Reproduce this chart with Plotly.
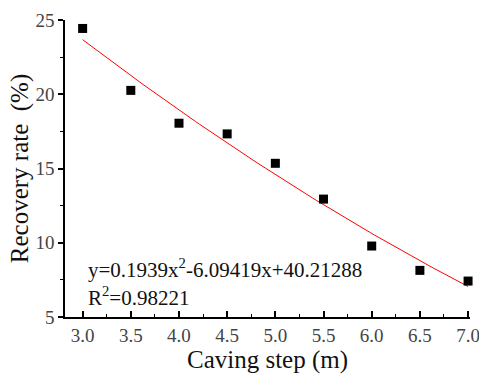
import numpy as np
import plotly.graph_objects as go

caving_step = [3.0, 3.5, 4.0, 4.5, 5.0, 5.5, 6.0, 6.5, 7.0]
recovery_rate = [24.43, 20.26, 18.05, 17.33, 15.35, 12.94, 9.78, 8.14, 7.42]

fit_a, fit_b, fit_c = 0.1939, -6.09419, 40.21288
equation_text = "y=0.1939x<sup>2</sup>-6.09419x+40.21288"
r2_text = "R<sup>2</sup>=0.98221"

x_tick_vals = [3.0, 3.5, 4.0, 4.5, 5.0, 5.5, 6.0, 6.5, 7.0]
x_tick_text = ["3.0", "3.5", "4.0", "4.5", "5.0", "5.5", "6.0", "6.5", "7.0"]
y_tick_vals = [5, 10, 15, 20, 25]

fit_x = np.linspace(min(caving_step), max(caving_step), 100)
fit_y = fit_a * fit_x ** 2 + fit_b * fit_x + fit_c

FONT = "Liberation Serif"

fig = go.Figure()
fig.add_trace(go.Scatter(x=fit_x, y=fit_y, mode="lines",
                         line=dict(color="#ff0000", width=1), showlegend=False))
fig.add_trace(go.Scatter(x=caving_step, y=recovery_rate, mode="markers",
                         marker=dict(symbol="square", size=9, color="black"),
                         showlegend=False, cliponaxis=False))

fig.add_annotation(x=3.03, y=8.25, xref="x", yref="y", text=equation_text,
                   showarrow=False, xanchor="left", yanchor="middle",
                   font=dict(family=FONT, size=21, color="#111"))
fig.add_annotation(x=3.03, y=6.35, xref="x", yref="y", text=r2_text,
                   showarrow=False, xanchor="left", yanchor="middle",
                   font=dict(family=FONT, size=21, color="#111"))

fig.update_layout(
    width=479, height=374,
    margin=dict(l=65, r=9, t=20, b=57, autoexpand=False),
    paper_bgcolor="white", plot_bgcolor="white",
    font=dict(family=FONT, color="#333"),
    xaxis=dict(range=[2.817, 7.02], tickvals=x_tick_vals, ticktext=x_tick_text,
               automargin=False,
               showline=True, linecolor="black", linewidth=1.5,
               ticks="inside", ticklen=6, tickwidth=1.5, tickcolor="black",
               minor=dict(ticks="inside", ticklen=3, tickwidth=1, tickcolor="black",
                          tick0=3.25, dtick=0.5),
               showgrid=False, zeroline=False, ticklabeloverflow="allow",
               tickfont=dict(family=FONT, size=19, color="#444"),
               title=dict(text="Caving step (m)", standoff=2,
                          font=dict(family=FONT, size=25, color="#111"))),
    yaxis=dict(range=[5, 25], tickvals=y_tick_vals,
               automargin=False,
               showline=True, linecolor="black", linewidth=1.5,
               ticks="outside", ticklen=5, tickwidth=1.5, tickcolor="black",
               minor=dict(ticks="outside", ticklen=3, tickwidth=1, tickcolor="black",
                          tick0=7.5, dtick=5),
               showgrid=False, zeroline=False,
               tickfont=dict(family=FONT, size=19, color="#444"),
               title=dict(text="Recovery rate  (%)", standoff=0,
                          font=dict(family=FONT, size=25, color="#111"))),
)

fig.write_html("out.html")
